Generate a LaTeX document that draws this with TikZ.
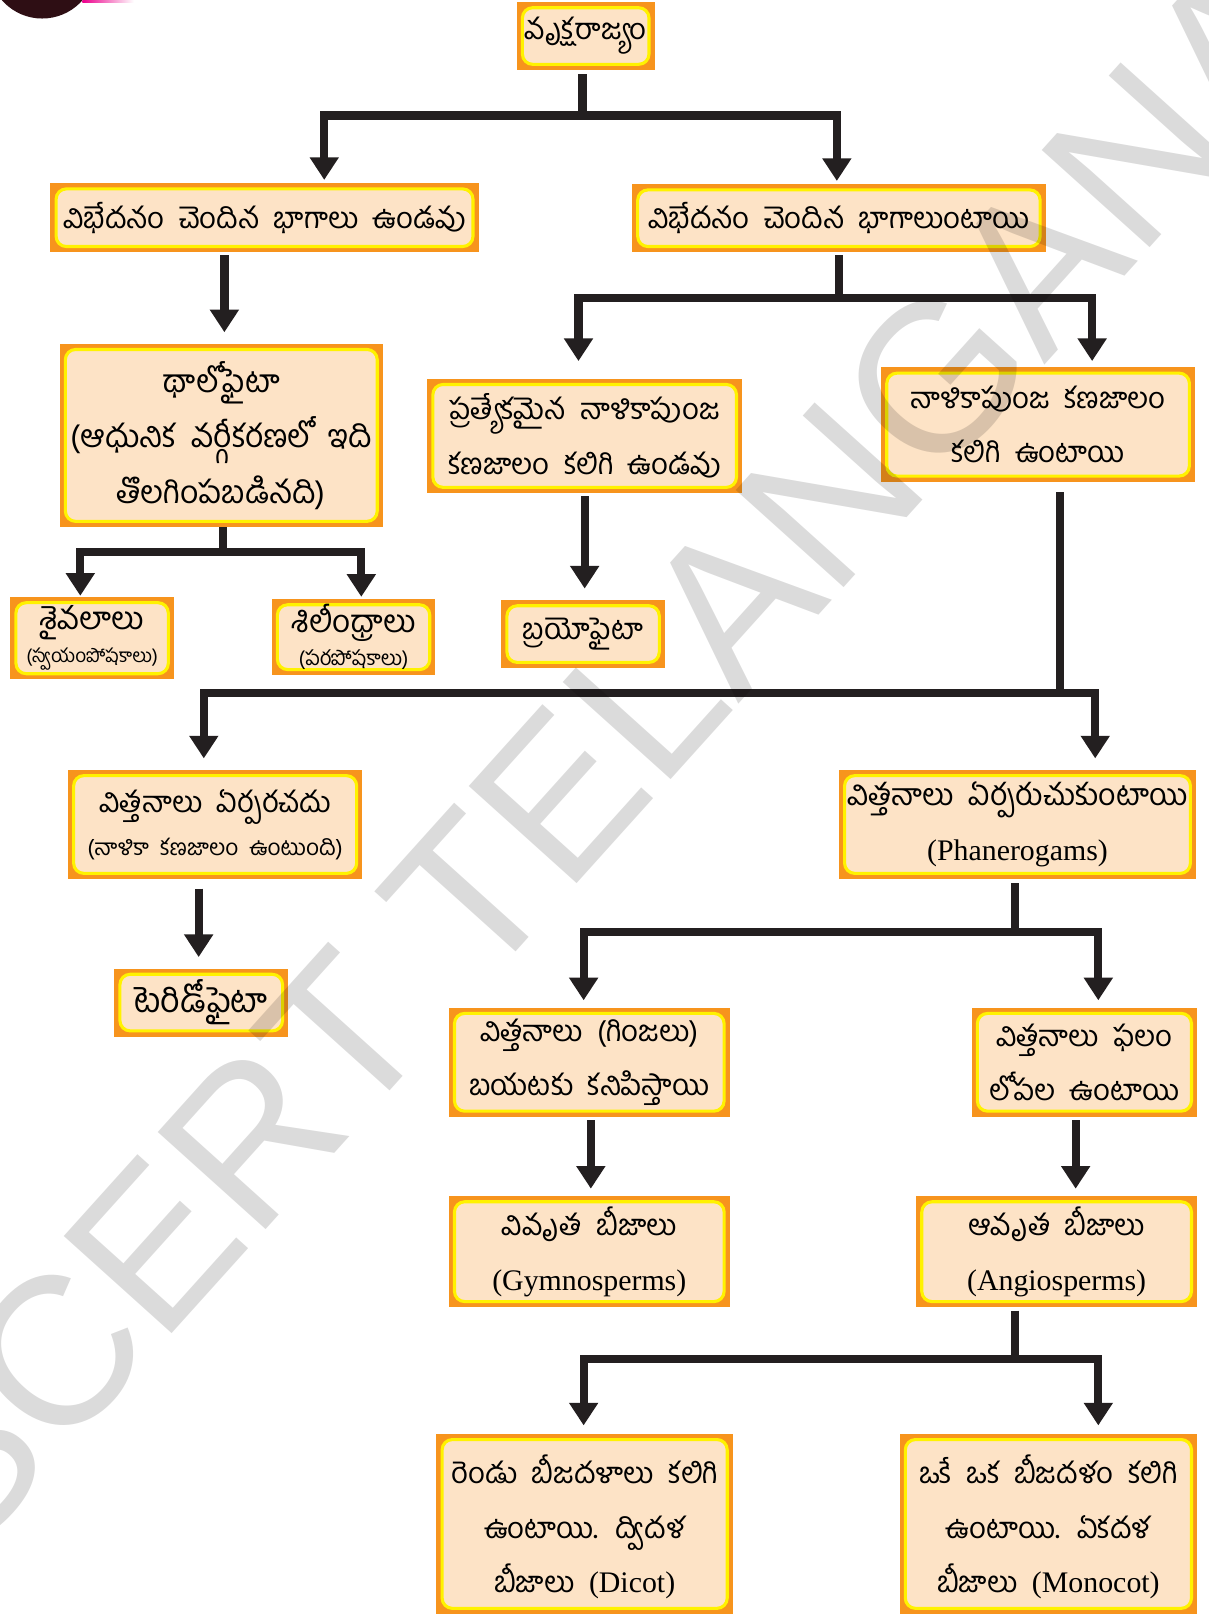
\documentclass[tikz,border=0pt]{standalone}
\usepackage{fontspec}
\usetikzlibrary{arrows.meta}
\newfontfamily\tel[Script=Telugu, WordSpace=2]{Hind Guntur}
\newfontfamily\lat{Liberation Serif}
\newfontfamily\wmfont{Liberation Sans}
\definecolor{orng}{HTML}{F7941D}
\definecolor{ylw}{HTML}{FFF200}
\definecolor{peach}{HTML}{FDE3C6}
\definecolor{ink}{HTML}{231F20}
\definecolor{darkdot}{HTML}{2E0E14}
\definecolor{pinkc}{HTML}{EC008C}
\newcommand{\en}[1]{{\lat\fontsize{29}{34}\selectfont #1}}
\newcommand{\sml}[2]{{\fontsize{#1}{22}\selectfont #2}}
\newcommand{\nodp}[1]{\raisebox{0pt}[\height][0pt]{#1}}
\begin{document}
\begin{tikzpicture}[x=1pt,y=-1pt,
  box/.style={rectangle, fill=orng, inner sep=0pt, align=center,
    font=\tel\fontsize{28.5}{53}\selectfont,
    path picture={\draw[ylw, fill=peach, line width=3pt, rounded corners=10pt]
      ([xshift=5.5pt,yshift=-5.5pt]path picture bounding box.north west) rectangle
      ([xshift=-5.5pt,yshift=5.5pt]path picture bounding box.south east);}},
  ln/.style={draw=ink, line width=8pt},
  arr/.style={ln, -{Triangle[width=27pt,length=22pt]}},
]
\useasboundingbox (0,0) rectangle (1174,1568);
\fill[white] (0,0) rectangle (1174,1568);
\clip (0,0) rectangle (1174,1568);
\fill[darkdot] (41,-34) circle[radius=52pt];
\shade[left color=pinkc, right color=white] (80,0) rectangle (130,2);

% boxes
\node[box, minimum width=134pt, minimum height=66pt] (root) at (569,35) {వృక్షరాజ్యం};
\node[box, minimum width=416pt, minimum height=67pt] (A) at (257,211.5) {విభేదనం చెందిన భాగాలు ఉండవు};
\node[box, minimum width=402pt, minimum height=66pt] (B) at (815,212) {విభేదనం చెందిన భాగాలుంటాయి};
\node[box, minimum width=314pt, minimum height=178pt, font=\tel\fontsize{31}{54}\selectfont] (Th) at (215,423) {థాలోఫైటా\\(ఆధునిక వర్గీకరణలో ఇది\\తొలగింపబడినది)};
\node[box, minimum width=306pt, minimum height=111pt] (C) at (568,423.5) {ప్రత్యేకమైన నాళికాపుంజ\\కణజాలం కలిగి ఉండవు};
\node[box, minimum width=305pt, minimum height=111pt] (D) at (1008.5,412.5) {నాళికాపుంజ కణజాలం\\కలిగి ఉంటాయి};
\node[box, minimum width=159pt, minimum height=80pt, font=\tel\fontsize{30.5}{32}\selectfont] (E) at (89.5,620) {శైవలాలు\\\sml{18.5}{(స్వయంపోషకాలు)}};
\node[box, minimum width=159pt, minimum height=74pt, font=\tel\fontsize{30.5}{32}\selectfont] (F) at (343.5,619) {శిలీంధ్రాలు\\\sml{20}{(పరపోషకాలు)}};
\node[box, minimum width=159pt, minimum height=66pt] (G) at (566.5,616) {బ్రయోఫైటా};
\node[box, minimum width=286pt, minimum height=106pt, font=\tel\fontsize{28.5}{42}\selectfont] (H) at (209,801) {విత్తనాలు ఏర్పరచదు\\\sml{22}{(నాళికా కణజాలం ఉంటుంది)}};
\node[box, minimum width=347pt, minimum height=106pt, font=\tel\fontsize{29.5}{53}\selectfont] (J) at (988.5,801) {విత్తనాలు ఏర్పరుచుకుంటాయి\\\en{(Phanerogams)}};
\node[box, minimum width=169pt, minimum height=66pt, font=\tel\fontsize{33}{53}\selectfont] (I) at (195.5,974) {టెరిడోఫైటా};
\node[box, minimum width=273pt, minimum height=106pt] (K) at (572.5,1032) {విత్తనాలు (గింజలు)\\బయటకు కనిపిస్తాయి};
\node[box, minimum width=219pt, minimum height=106pt] (L) at (1053.5,1032) {విత్తనాలు ఫలం\\లోపల ఉంటాయి};
\node[box, minimum width=273pt, minimum height=108pt] (M) at (572.5,1216) {వివృత బీజాలు\\\en{(Gymnosperms)}};
\node[box, minimum width=273pt, minimum height=108pt] (N) at (1026.5,1216) {ఆవృత బీజాలు\\\en{(Angiosperms)}};
\node[box, minimum width=288pt, minimum height=175pt] (O) at (568,1480.5) {రెండు బీజదళాలు కలిగి\\ఉంటాయి. ద్విదళ\\\nodp{బీజాలు \en{(Dicot)}}};
\node[box, minimum width=289pt, minimum height=175pt] (P) at (1018.5,1480.5) {ఒకే ఒక బీజదళం కలిగి\\ఉంటాయి. ఏకదళ\\\nodp{బీజాలు \en{(Monocot)}}};

% connectors
\draw[ln, shorten <=4pt] ([xshift=-3pt]root.south) -- ++(0,44) coordinate (b1);
\draw[arr, shorten >=3pt] (b1) -| ([xshift=58pt]A.north);
\draw[arr, shorten >=3pt] (b1) -| ([xshift=-2pt]B.north);

\coordinate (a1) at ([xshift=-39pt]A.south);
\draw[arr, shorten <=3pt, shorten >=11pt] (a1) -- (a1 |- Th.north);

\draw[ln, shorten <=3pt] (B.south) -- ++(0,44) coordinate (b2);
\draw[arr, shorten >=17pt] (b2) -| ([xshift=-6pt]C.north);
\draw[arr, shorten >=6pt] (b2) -| ([xshift=52.5pt]D.north);

\draw[ln] ([xshift=2pt]Th.south) -- ++(0,24) coordinate (b3);
\draw[arr, shorten >=1pt] (b3) -| ([xshift=-11.5pt]E.north);
\draw[arr, shorten >=2pt] (b3) -| ([xshift=7.5pt]F.north);

\coordinate (c1) at (C.south);
\draw[arr, shorten <=3pt, shorten >=11pt] (c1) -- (c1 |- G.north);

\draw[ln, shorten <=10pt] ([xshift=21.5pt]D.south) -- ++(0,205) coordinate (b4);
\draw[arr, shorten >=11pt] (b4) -| ([xshift=-11pt]H.north);
\draw[arr, shorten >=11pt] (b4) -| ([xshift=75.5pt]J.north);

\coordinate (h1) at ([xshift=-16pt]H.south);
\draw[arr, shorten <=9pt, shorten >=11pt] (h1) -- (h1 |- I.north);

\draw[ln, shorten <=4pt] ([xshift=-2.5pt]J.south) -- ++(0,51) coordinate (b5);
\draw[arr, shorten >=7pt] (b5) -| ([xshift=-5.5pt]K.north);
\draw[arr, shorten >=7pt] (b5) -| ([xshift=13.5pt]L.north);

\coordinate (k1) at ([xshift=1.5pt]K.south);
\draw[arr, shorten <=3pt, shorten >=7pt] (k1) -- (k1 |- M.north);
\coordinate (l1) at ([xshift=-8.5pt]L.south);
\draw[arr, shorten <=3pt, shorten >=7pt] (l1) -- (l1 |- N.north);

\draw[ln, shorten <=3pt] ([xshift=-40.5pt]N.south) -- ++(0,50) coordinate (b6);
\draw[arr, shorten >=8pt] (b6) -| ([xshift=-1pt]O.north);
\draw[arr, shorten >=8pt] (b6) -| ([xshift=48.5pt]P.north);

% watermark
\node[anchor=base west, rotate=48, inner sep=0pt, text=black, opacity=0.14,
  font=\wmfont\fontsize{205}{205}\selectfont] (wm) at (-35,1520) {SCERT TELANGANA};
\end{tikzpicture}
\end{document}
